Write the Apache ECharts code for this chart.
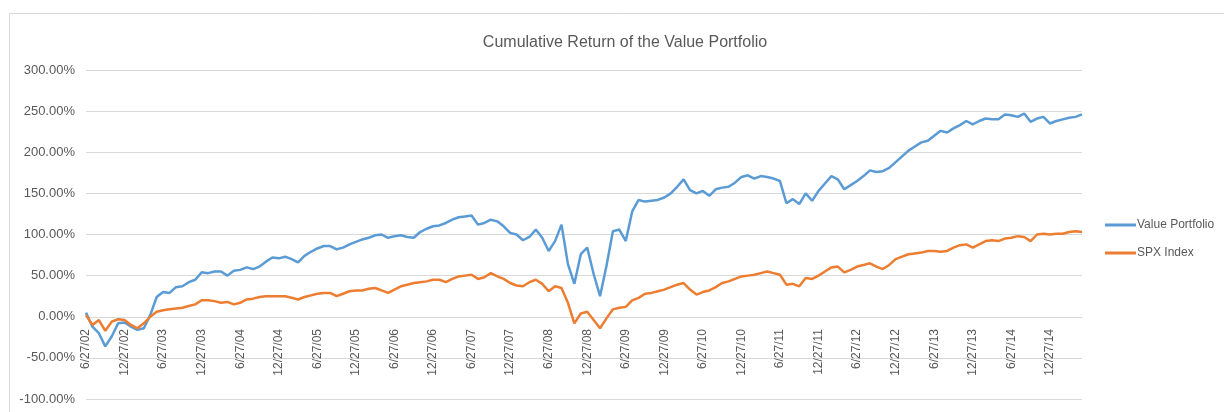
<!DOCTYPE html>
<html>
<head>
<meta charset="utf-8">
<script src="https://cdn.jsdelivr.net/npm/echarts@6/dist/echarts.min.js"></script>
<style>
  html, body { margin: 0; padding: 0; background: #fff; }
  #chart { width: 1224px; height: 412px; }
</style>
</head>
<body>
<div id="chart"></div>
<script>
// monthly samples, 6/27/02 .. 5/27/15 (cumulative return, %)
const valuePortfolio = [
  5, -12, -20, -36, -24, -8, -7, -12, -16, -14, 2, 24,
  30, 29, 36, 37, 42, 45, 54, 53, 55, 55, 50, 56,
  57, 60, 58, 61, 67, 72, 71, 73, 70, 66, 74, 79,
  83, 86, 86, 82, 84, 88, 91, 94, 96, 99, 100, 96,
  98, 99, 97, 96, 103, 107, 110, 111, 114, 118, 121, 122,
  123, 112, 114, 118, 116, 110, 102, 100, 93, 97, 106, 96,
  80, 92, 112, 64, 40, 76, 84, 52, 25, 62, 104, 106,
  92, 128, 142, 140, 141, 142, 145, 150, 158, 167, 154, 150,
  153, 147, 155, 157, 158, 163, 170, 172, 168, 171, 170, 168,
  165, 138, 143, 137, 150, 141, 153, 162, 171, 167, 155, 160,
  165, 171, 178, 176, 177, 181, 188, 195, 202, 207, 212, 214,
  220, 226, 224, 229, 233, 238, 234, 238, 241, 240, 240, 246,
  245, 243, 247, 237, 241, 243, 235, 238, 240, 242, 243, 246
];
const spxIndex = [
  2, -10, -4, -17, -6, -3, -4, -10, -14, -8, 0, 6,
  8, 9, 10, 11, 13, 15, 20, 20, 19, 17, 18, 15,
  17, 21, 22, 24, 25, 25, 25, 25, 23, 21, 24, 26,
  28, 29, 29, 25, 28, 31, 32, 32, 34, 35, 32, 29,
  33, 37, 39, 41, 42, 43, 45, 45, 42, 46, 49, 50,
  51, 46, 48, 53, 49, 46, 41, 38, 37, 42, 45, 40,
  31, 37, 35, 17, -8, 4, 6, -4, -14, -2, 9, 11,
  12, 20, 23, 28, 29, 31, 33, 36, 39, 41, 33, 27,
  30, 32, 36, 41, 43, 46, 49, 50, 51, 53, 55, 53,
  51, 39, 40, 37, 47, 46, 50, 55, 60, 61, 54, 57,
  61, 63, 65, 61, 58, 63, 70, 73, 76, 77, 78, 80,
  80, 79, 80, 84, 87, 88, 84, 88, 92, 93, 92, 95,
  96, 98, 97, 92, 100, 101, 100, 101, 101, 103, 104, 103
];

// category dates M/27/YY
const dates = [];
for (let i = 0; i < valuePortfolio.length; i++) {
  let m = (5 + i) % 12 + 1
  let y = 2 + Math.floor((5 + i) / 12)
  dates.push(m + '/27/' + String(y).padStart(2, '0'))
}

const chart = echarts.init(document.getElementById('chart'));
chart.setOption({
  animation: false,
  graphic: [{
    type: 'rect',
    shape: { x: 9.5, y: 13.5, width: 1240, height: 420 },
    style: { fill: 'none', stroke: '#d9d9d9', lineWidth: 1 },
    silent: true
  }],
  title: {
    text: 'Cumulative Return of the Value Portfolio',
    left: 620,
    textAlign: 'center',
    top: 30,
    textStyle: {
      fontFamily: 'Liberation Sans, Arial, sans-serif',
      fontSize: 16,
      fontWeight: 'normal',
      color: '#595959'
    }
  },
  legend: {
    orient: 'vertical',
    left: 1100,
    top: 214,
    icon: 'rect',
    itemWidth: 31,
    itemHeight: 3,
    itemGap: 16,
    textStyle: {
      fontFamily: 'Liberation Sans, Arial, sans-serif',
      fontSize: 12,
      color: '#595959',
      padding: [0, 0, 0, -4]
    },
    data: ['Value Portfolio', 'SPX Index']
  },
  grid: {
    left: 86,
    right: 142,
    top: 70,
    bottom: 13,
    containLabel: false,
    outerBoundsMode: 'none'
  },
  xAxis: {
    type: 'category',
    data: dates,
    boundaryGap: false,
    // labels sit under the 0% line, like the excel chart
    offset: -82,
    axisLine: { onZero: false, lineStyle: { color: '#d9d9d9', width: 1 } },
    axisTick: { show: false },
    axisLabel: {
      rotate: 90,
      interval: function (index) { return index % 6 === 0 },
      margin: 12,
      fontFamily: 'Liberation Sans, Arial, sans-serif',
      fontSize: 12,
      color: '#595959'
    },
    splitLine: { show: false }
  },
  yAxis: {
    type: 'value',
    min: -100,
    max: 300,
    interval: 50,
    axisLine: { show: false },
    axisTick: { show: false },
    axisLabel: {
      margin: 11,
      fontFamily: 'Liberation Sans, Arial, sans-serif',
      fontSize: 13,
      color: '#595959',
      formatter: function (v) { return v.toFixed(2) + '%' }
    },
    splitLine: { lineStyle: { color: '#d9d9d9', width: 1 } }
  },
  series: [
    {
      name: 'Value Portfolio',
      type: 'line',
      data: valuePortfolio,
      symbol: 'none',
      lineStyle: { color: '#5B9BD5', width: 2.5 },
      itemStyle: { color: '#5B9BD5' }
    },
    {
      name: 'SPX Index',
      type: 'line',
      data: spxIndex,
      symbol: 'none',
      lineStyle: { color: '#ED7D31', width: 2.5 },
      itemStyle: { color: '#ED7D31' }
    }
  ]
});
</script>
</body>
</html>
